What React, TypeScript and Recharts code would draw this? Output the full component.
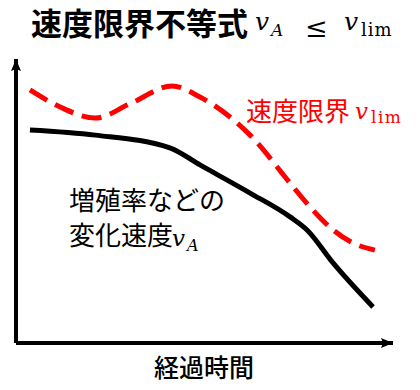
import React from 'react';
import { LineChart, Line, XAxis, YAxis } from 'recharts';

// Speed limit v_lim (red dashed)
const limitTimes = [3.7, 11.7, 21, 30.2, 41.4, 48.8, 62.1, 72.7, 78, 84.1, 89.4, 95.2];
const limitValues = [89.1, 83.1, 79.2, 84.2, 90.5, 86.6, 73.2, 56.3, 47.9, 39.8, 35.2, 32.7];

// Rate of change v_A (black solid)
const rateTimes = [3.7, 21, 40.8, 48.8, 62.1, 72.7, 77.2, 84.1, 94.7];
const rateValues = [75.0, 73.2, 68.7, 62.7, 52.8, 44.4, 39.8, 28.2, 12.7];

const titleText = '速度限界不等式';
const limitLabel = '速度限界';
const rateLabelLine1 = '増殖率などの';
const rateLabelLine2 = '変化速度';
const xLabel = '経過時間';

const limitData = limitTimes.map((t, i) => ({ t, v: limitValues[i] }));
const rateData = rateTimes.map((t, i) => ({ t, v: rateValues[i] }));

const CJK = 'Noto Sans CJK JP';
const MATH = 'DejaVu Serif';

const Decorations = () => (
  <g>
    <defs>
      <marker
        id="axisArrow"
        markerUnits="userSpaceOnUse"
        markerWidth={14}
        markerHeight={14}
        viewBox="0 0 14 14"
        refX={13}
        refY={7}
        orient="auto-start-reverse"
      >
        <path d="M1,2 L13,7 L1,12 L3,7 z" fill="#000" />
      </marker>
    </defs>
    {/* Title */}
    <text x={31} y={35} fontFamily={CJK} fontWeight={700} fontSize={31} fill="#000">
      {titleText}
    </text>
    <text y={30} fill="#000" fontFamily={MATH}>
      <tspan x={255} fontStyle="italic" fontSize={25}>v</tspan>
      <tspan x={271} fontStyle="italic" fontSize={17} dy={6}>A</tspan>
      <tspan x={305} fontSize={27} dy={1}>≤</tspan>
      <tspan x={344} fontStyle="italic" fontSize={25} dy={-7}>v</tspan>
      <tspan x={361} fontSize={18} dy={6} letterSpacing={1}>lim</tspan>
    </text>
    {/* Red label */}
    <text x={246} y={121} fontFamily={CJK} fontSize={26} fill="#ff0000">
      {limitLabel}
    </text>
    <text y={119} fill="#ff0000" fontFamily={MATH}>
      <tspan x={355} fontStyle="italic" fontSize={23}>v</tspan>
      <tspan x={371} fontSize={17} dy={4} letterSpacing={1.5}>lim</tspan>
    </text>
    {/* Black label */}
    <text x={69} y={210} fontFamily={CJK} fontSize={26} fill="#000">
      {rateLabelLine1}
    </text>
    <text x={69} y={245} fontFamily={CJK} fontSize={26} fill="#000">
      {rateLabelLine2}
    </text>
    <text y={246} fill="#000" fontFamily={MATH}>
      <tspan x={172} fontStyle="italic" fontSize={23}>v</tspan>
      <tspan x={187} fontStyle="italic" fontSize={16} dy={5}>A</tspan>
    </text>
    {/* X axis label */}
    <text x={204} y={377} textAnchor="middle" fontFamily={CJK} fontWeight={500} fontSize={25} fill="#000">
      {xLabel}
    </text>
  </g>
);

export default function App() {
  return (
    <div style={{ position: 'absolute', left: 0, top: 0, width: 420, height: 390, background: '#fff' }}>
      <LineChart width={420} height={390} margin={{ top: 59, right: 27, bottom: 46, left: 15 }}>
        <XAxis
          xAxisId={0}
          type="number"
          dataKey="t"
          domain={[0, 100]}
          allowDataOverflow
          tick={false}
          tickLine={false}
          height={1}
          stroke="#000"
          strokeWidth={4}
          axisLine={{ stroke: '#000', strokeWidth: 4, markerEnd: 'url(#axisArrow)' }}
        />
        <YAxis
          yAxisId={0}
          type="number"
          dataKey="v"
          domain={[0, 100]}
          allowDataOverflow
          tick={false}
          tickLine={false}
          width={1}
          stroke="#000"
          strokeWidth={4}
          axisLine={{ stroke: '#000', strokeWidth: 4, markerStart: 'url(#axisArrow)' }}
        />
        <Line
          data={limitData}
          dataKey="v"
          type="monotone"
          stroke="#ff0000"
          strokeWidth={5}
          strokeDasharray="20 9"
          dot={false}
          activeDot={false}
          isAnimationActive={false}
        />
        <Line
          data={rateData}
          dataKey="v"
          type="monotone"
          stroke="#000"
          strokeWidth={5}
          dot={false}
          activeDot={false}
          isAnimationActive={false}
        />
        <Decorations />
      </LineChart>
    </div>
  );
}
